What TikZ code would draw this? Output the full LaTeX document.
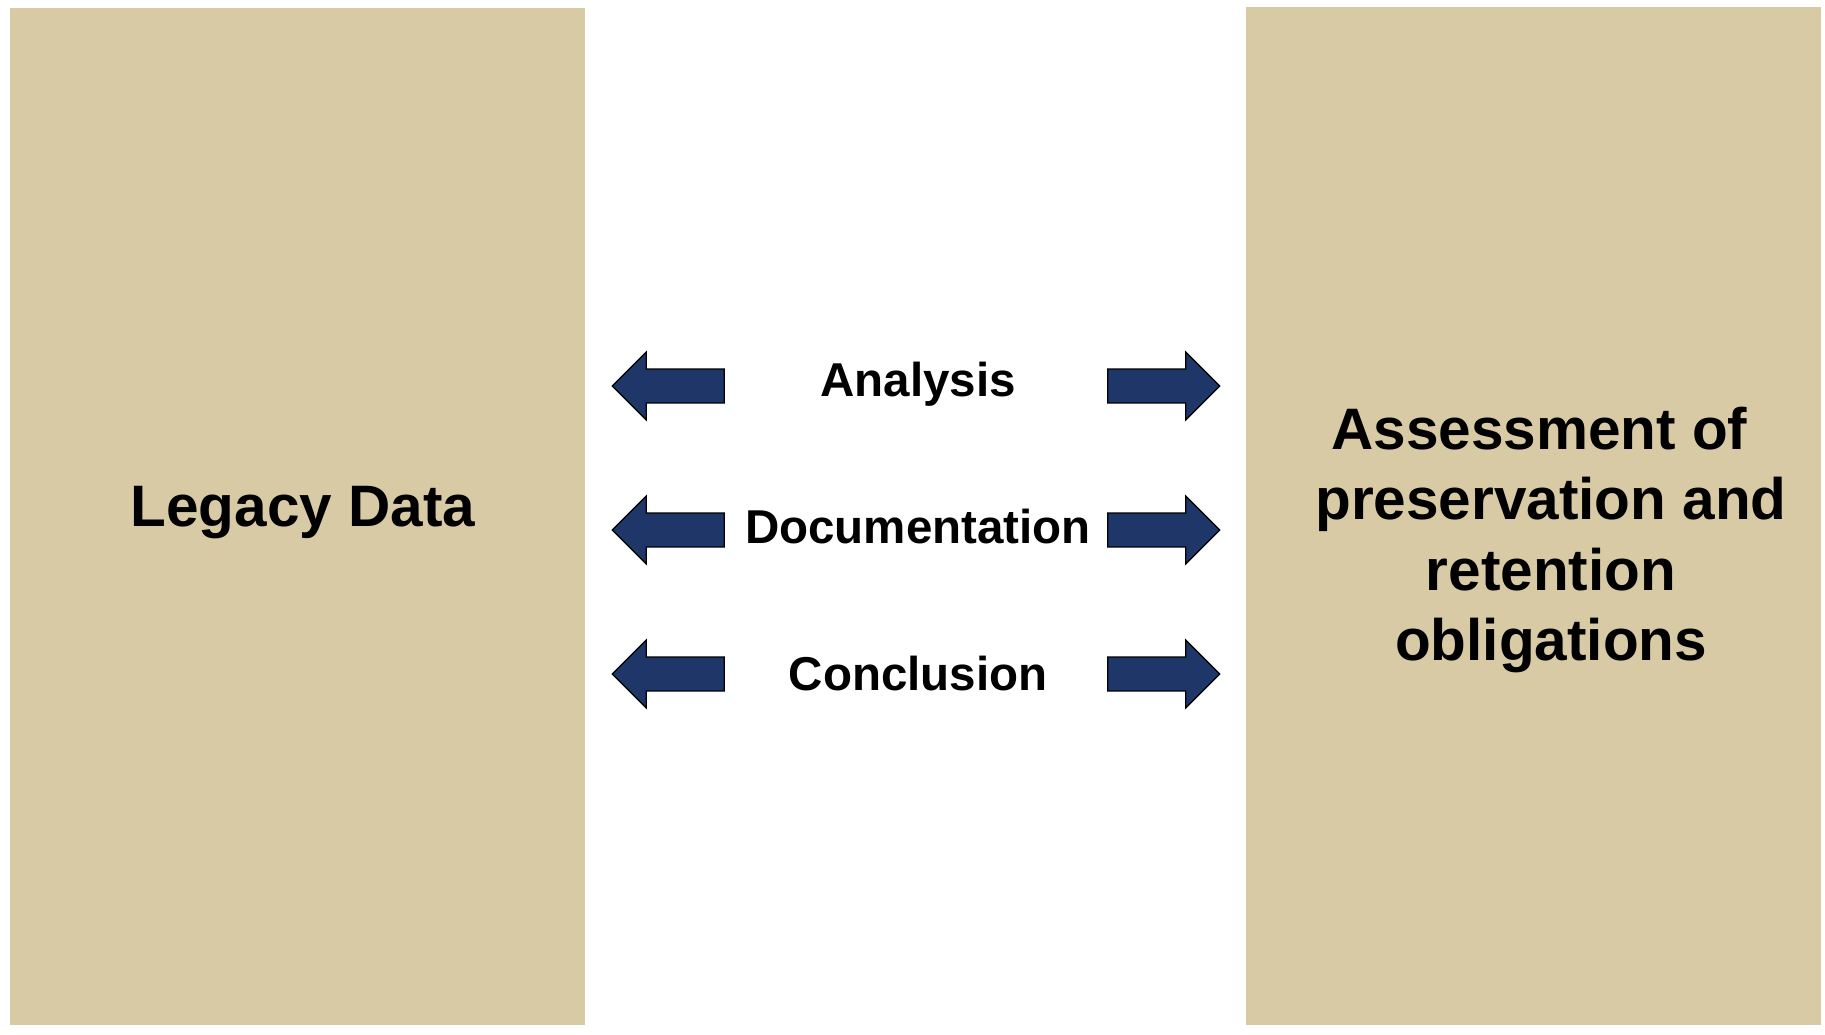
\documentclass[tikz,border=0pt]{standalone}
\usepackage{fontspec}
\setmainfont{Liberation Sans}
\usepackage{xcolor}
\usepackage{tikz}
\usetikzlibrary{shapes,arrows,positioning}

\definecolor{paneltan}{RGB}{217,202,166}
\definecolor{arrownavy}{RGB}{31,54,104}

\tikzset{
    panel/.style={fill=paneltan, draw=none, inner sep=0, anchor=north west},
    bigtext/.style={font=\fontsize{58.5bp}{70.3bp}\selectfont\bfseries, align=center, inner sep=0},
    steptext/.style={font=\fontsize{47.5bp}{57bp}\selectfont\bfseries, inner sep=0, anchor=base},
    bigarrow/.style={single arrow, draw=black, fill=arrownavy, line width=1.2bp,
        minimum height=112bp, minimum width=0pt, single arrow head extend=17bp,
        inner xsep=0pt, inner ysep=16.35bp}
}

\begin{document}
\begin{tikzpicture}[x=1bp, y=-1bp]
                \fill[white] (0,0) rectangle (1825,1034);
                \useasboundingbox (0,0) rectangle (1825,1034);

                \node[
                    panel,
                    minimum width=575bp,
                    minimum height=1017bp
                ] (legacy) at (10,8) {};

                \node[
                    panel,
                    minimum width=575bp,
                    minimum height=1018bp
                ] (assess) at (1246,7) {};

                \node[bigtext, anchor=base] (legacytext) at (303,526) {Legacy Data};
                \node[bigtext] (assesstext) at (1551,540) {Assessment of\hspace*{0.4em}\\preservation and\\retention\\obligations};

                \node[steptext] (analysis) at (918,396.7) {Analysis};
                \node[steptext] (documentation) at (918,543.3) {Documentation};
                \node[steptext] (conclusion) at (918,690) {Conclusion};

                \node[bigarrow, shape border rotate=180] (analysisleft) at (676.7,386) {};
                \node[bigarrow] (analysisright) at (1155.3,386) {};
                \node[bigarrow, shape border rotate=180] (documentationleft) at (676.7,530) {};
                \node[bigarrow] (documentationright) at (1155.3,530) {};
                \node[bigarrow, shape border rotate=180] (conclusionleft) at (676.7,674) {};
                \node[bigarrow] (conclusionright) at (1155.3,674) {};

             \end{tikzpicture}
\end{document}
